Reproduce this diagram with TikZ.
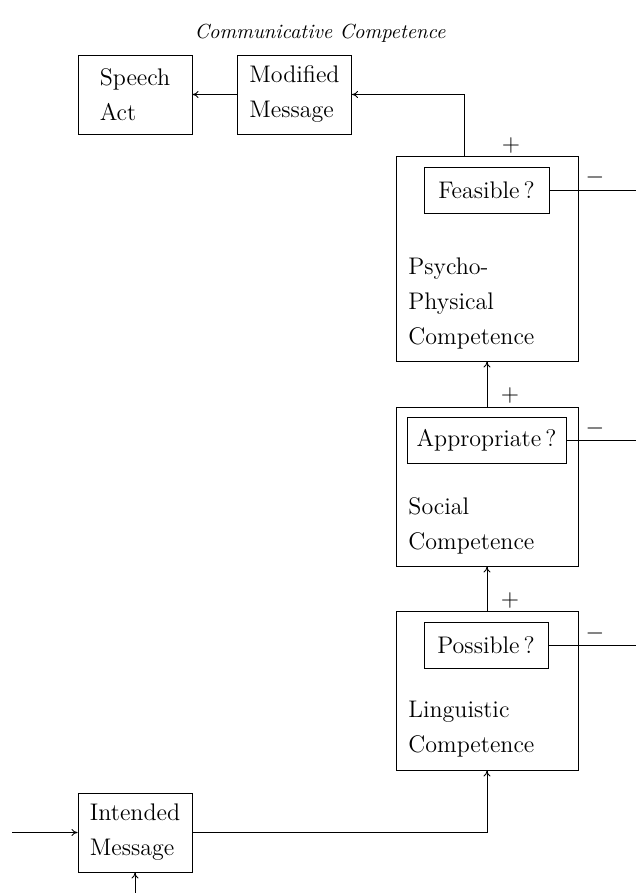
\documentclass[tikz,border=0pt]{standalone}
\usetikzlibrary{arrows.meta}
\begin{document}
\begin{tikzpicture}[x=0.5pt,y=-0.5pt,line width=0.45pt,
  >={To[length=3pt,width=3.4pt]},
  box/.style={draw,inner sep=0pt,align=left,font=\fontsize{12}{17.5}\selectfont},
  msgbox/.style={box,minimum width=57pt,minimum height=39.5pt},
  compbox/.style={draw,inner sep=0pt,minimum width=91pt},
  query/.style={box,align=center,minimum height=23pt},
  comptext/.style={inner sep=0pt,anchor=west,align=left,font=\fontsize{12}{17.5}\selectfont},
  signlabel/.style={inner sep=0pt,font=\fontsize{12}{12}\selectfont}]
\useasboundingbox (0,0) rectangle (636,893);

% Title
\node[font=\fontsize{10.2}{12}\selectfont\itshape] (title) at (320,33) {Communicative Competence};

% Message boxes
\node[msgbox] (speech) at (135,94.5) {Speech\\Act};
\node[msgbox] (modified) at (294.5,94.5) {Modified\\Message};
\node[msgbox] (intended) at (135,832.5) {Intended\\Message};

% Competence boxes
\node[compbox,minimum height=102.5pt] (psycho) at (487,258.5) {};
\node[query,minimum width=62.5pt] (feasible) at (486.5,190.5) {Feasible\,?};
\node[comptext] (psychotext) at (408,303) {Psycho-\\Physical\\Competence};

\node[compbox,minimum height=79.5pt] (social) at (487,486.5) {};
\node[query,minimum width=79.5pt] (appropriate) at (486.5,440) {Appropriate\,?};
\node[comptext] (socialtext) at (408,525.5) {Social\\Competence};

\node[compbox,minimum height=79.5pt] (linguistic) at (487,690.5) {};
\node[query,minimum width=62pt] (possible) at (486,645) {Possible\,?};
\node[comptext] (linguistictext) at (408,729.5) {Linguistic\\Competence};

% Signs
\node[signlabel] (plusp) at (511,146) {$+$};
\node[signlabel] (pluss) at (510,395) {$+$};
\node[signlabel] (plusl) at (510,600) {$+$};
\node[signlabel] (minusp) at (595,178) {$-$};
\node[signlabel] (minuss) at (595,428) {$-$};
\node[signlabel] (minusl) at (595,633) {$-$};

% Free ends
\coordinate (fout) at (636,190.5);
\coordinate (aout) at (636,440);
\coordinate (pout) at (636,645);
\coordinate (inleft) at (12,832.5);
\coordinate (inbelow) at (135,893);

% Connectors
\draw[->] (modified) -- (speech);
\draw[->] ([xshift=-11.5pt]psycho.north) |- (modified);
\draw[->] (social) -- (psycho);
\draw[->] (linguistic) -- (social);
\draw[->] (intended) -| (linguistic);
\draw[->] (inleft) -- (intended);
\draw[->] (inbelow) -- (intended);
\draw (feasible) -- (fout);
\draw (appropriate) -- (aout);
\draw (possible) -- (pout);

\end{tikzpicture}
\end{document}
